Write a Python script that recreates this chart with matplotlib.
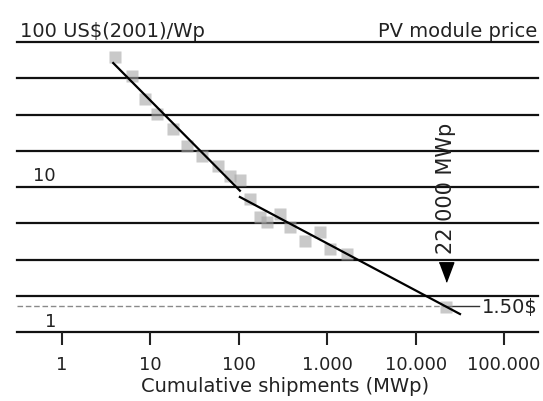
import numpy as np
import matplotlib
matplotlib.use("Agg")
import matplotlib.pyplot as plt

# data (cumulative shipments in MWp, price in US$(2001)/Wp)
ship = [3.98, 6.14, 8.69, 11.8, 18.0, 25.7, 38.0, 58.2, 79.5, 103, 134, 174,
        207, 292, 379, 561, 829, 1076, 1662, 22000]
price = [78.8, 58.6, 40.5, 31.9, 25.1, 19.3, 16.4, 14.0, 12.0, 11.1, 8.27, 6.21,
         5.74, 6.51, 5.30, 4.24, 4.90, 3.74, 3.45, 1.49]

# two learning-curve fits
fit1_x = [3.8, 103]
fit1_y = [71.6, 9.43]
fit2_x = [103, 31800]
fit2_y = [8.53, 1.33]

grid_levels = [1, 1.78, 3.16, 5.62, 10, 17.8, 31.6, 56.2, 100]
xticks = [1, 10, 100, 1000, 10000, 100000]
xtick_labels = ['1', '10', '100', '1.000', '10.000', '100.000']
target_ship = 22000
target_price = 1.5

plt.rcParams['font.family'] = ['DejaVu Sans']

W, H = 543, 402
fig = plt.figure(figsize=(W / 100, H / 100), dpi=100)
ax = fig.add_axes([17 / W, 1 - 333 / H, (538 - 17) / W, (333 - 43) / H])
ax.set_xscale('log')
ax.set_yscale('log')
ax.set_xlim(0.31, 242600)
ax.set_ylim(1, 100)

for s in ax.spines.values():
    s.set_visible(False)

for g in grid_levels:
    ax.axhline(g, color='#111111', lw=1.6, zorder=1, clip_on=False)

# price dashed line and marker for the 22 000 MWp point
ax.plot([0.31, target_ship], [target_price, target_price], color='#8a8a8a',
        lw=1.0, ls=(0, (4, 2)), zorder=2)
ax.plot([target_ship, 52100], [target_price, target_price], color='#333333',
        lw=1.0, zorder=2)
ax.text(56400, target_price, '1.50$', fontsize=14, ha='left', va='center',
        color='#222222')

ax.plot(ship, price, ls='none', marker='s', ms=8, color='#a5a5a5', alpha=0.6,
        mec='none', zorder=3)
ax.plot(fit1_x, fit1_y, color='black', lw=1.6, zorder=4)
ax.plot(fit2_x, fit2_y, color='black', lw=1.6, zorder=4)

ax.plot([target_ship], [2.59], ls='none', ms=14, color='black',
        marker=[(-0.75, 1), (0.75, 1), (0, -1)], zorder=5)
ax.text(target_ship, 3.5, '22 000 MWp', rotation=90, fontsize=15,
        ha='center', va='bottom', color='#222222')

ax.set_xticks(xticks)
ax.set_xticklabels(xtick_labels, fontsize=13, color='#222222')
ax.xaxis.set_minor_locator(matplotlib.ticker.NullLocator())
ax.tick_params(axis='x', direction='out', length=9.5, width=1.5, pad=7,
               color='#222222')
ax.set_yticks([])
ax.yaxis.set_minor_locator(matplotlib.ticker.NullLocator())

ax.text(0.47, 11.2, '10', fontsize=13, ha='left', va='baseline', color='#222222')
ax.text(0.64, 1.1, '1', fontsize=13, ha='left', va='baseline', color='#222222')

fig.text(20 / W, 1 - 37 / H, '100 US$(2001)/Wp', fontsize=14, ha='left',
         va='baseline', color='#222222')
fig.text(537 / W, 1 - 37 / H, 'PV module price', fontsize=14, ha='right',
         va='baseline', color='#222222')
fig.text(285 / W, 1 - 387 / H, 'Cumulative shipments (MWp)', fontsize=14,
         ha='center', va='center', color='#222222')

fig.savefig('out.png', dpi=100)
